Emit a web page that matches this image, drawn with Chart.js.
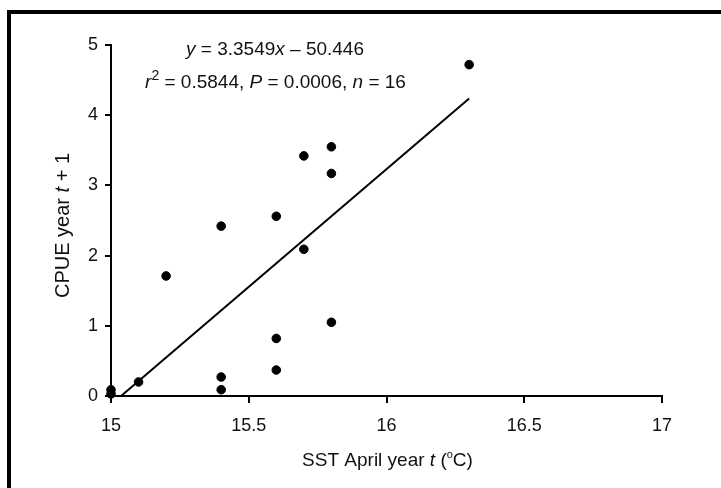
<!DOCTYPE html>
<html><head><meta charset="utf-8">
<script src="https://cdn.jsdelivr.net/npm/chart.js@4"></script>
<style>html,body{margin:0;padding:0;background:#fff;}#wrap{width:721px;height:488px;position:relative;}</style>
</head><body><div id="wrap"><canvas id="c" width="721" height="488"></canvas></div>
<script>
// ---- data ----
const sst  = [15.0, 15.0, 15.1, 15.2, 15.4, 15.4, 15.4, 15.6, 15.6, 15.6, 15.7, 15.7, 15.8, 15.8, 15.8, 16.3];
const cpue = [0.03, 0.09, 0.2, 1.71, 0.09, 0.27, 2.42, 0.37, 0.82, 2.56, 2.09, 3.42, 1.05, 3.17, 3.55, 4.72];
const fitSlope = 3.3549;
const fitIntercept = -50.446;
const xTicks = [15, 15.5, 16, 16.5, 17];
const yTicks = [0, 1, 2, 3, 4, 5];
// rich-text pieces: [text, style]  style: n=normal, i=italic, s=superscript
const xTitle = [['SST April year ','n'], ['t','i'], [' (','n'], ['o','s'], ['C)','n']];
const yTitle = [['CPUE year ','n'], ['t','i'], [' + 1','n']];
const eqLine1 = [['y','i'], [' = 3.3549','n'], ['x','i'], [' \u2013 50.446','n']];
const eqLine2 = [['r','i'], ['2','s'], [' = 0.5844, ','n'], ['P','i'], [' = 0.0006, ','n'], ['n','i'], [' = 16','n']];

const FONT = "'Liberation Sans', Arial, Helvetica, sans-serif";
const points = sst.map((x, i) => ({x: x, y: cpue[i]}));
const xStart = -fitIntercept / fitSlope;
const xEnd = Math.max(...sst);
const fitLine = [xStart, xEnd].map(x => ({x: x, y: fitSlope * x + fitIntercept}));

const framePlugin = {
  id: 'frame',
  afterDraw(chart) {
    const ctx = chart.ctx;
    ctx.save();
    ctx.fillStyle = '#000';
    ctx.fillRect(7, 10, 4, chart.height - 10);
    ctx.fillRect(7, 10, chart.width - 7, 4);
    ctx.restore();
  }
};

function drawRich(ctx, segs, cx, baseline, size, supScale) {
  const ss = supScale || 0.72;
  const fontOf = st => (st === 'i' ? 'italic ' : '') + (st === 's' ? Math.round(size * ss) : size) + 'px ' + FONT;
  let total = 0;
  const widths = segs.map(([t, st]) => { ctx.font = fontOf(st); const w = ctx.measureText(t).width; total += w; return w; });
  let x = cx - total / 2;
  segs.forEach(([t, st], i) => {
    ctx.font = fontOf(st);
    ctx.fillText(t, x, baseline - (st === 's' ? size * 0.42 : 0));
    x += widths[i];
  });
}

const textPlugin = {
  id: 'texts',
  afterDraw(chart) {
    const ctx = chart.ctx;
    const a = chart.chartArea;
    ctx.save();
    ctx.fillStyle = '#111';
    ctx.textBaseline = 'alphabetic';
    ctx.textAlign = 'left';
    drawRich(ctx, eqLine1, 275, 54.5, 19);
    drawRich(ctx, eqLine2, 275.5, 87.5, 19);
    // x title
    drawRich(ctx, xTitle, (a.left + a.right) / 2 + 1, 466, 19, 0.6);
    // y title (rotated)
    ctx.translate(68.5, (a.top + a.bottom) / 2 + 5);
    ctx.rotate(-Math.PI / 2);
    drawRich(ctx, yTitle, 0, 0, 20);
    ctx.restore();
  }
};

const tickFont = {family: FONT, size: 18};
new Chart(document.getElementById('c'), {
  type: 'scatter',
  data: {
    datasets: [
      {data: points, backgroundColor: '#000', borderColor: '#000', pointRadius: 4.3, pointHoverRadius: 4.3, clip: false},
      {type: 'line', data: fitLine, borderColor: '#000', borderWidth: 2, pointRadius: 0, fill: false, tension: 0}
    ]
  },
  options: {
    responsive: false,
    animation: false,
    events: [],
    layout: {padding: {top: 45, right: 59, left: 0, bottom: 0}},
    plugins: {legend: {display: false}, tooltip: {enabled: false}},
    scales: {
      x: {
        type: 'linear', min: 15, max: 17,
        afterBuildTicks: s => { s.ticks = xTicks.map(v => ({value: v})); },
        afterFit: s => { s.height = 92; },
        grid: {display: true, drawOnChartArea: false, drawTicks: true, tickLength: 7, color: '#000', lineWidth: 2},
        border: {display: true, color: '#000', width: 2},
        ticks: {color: '#111', font: tickFont, padding: 12, maxRotation: 0, autoSkip: false, callback: v => String(v)},
        title: {display: false}
      },
      y: {
        type: 'linear', min: 0, max: 5,
        afterBuildTicks: s => { s.ticks = yTicks.map(v => ({value: v})); },
        afterFit: s => { s.width = 111; },
        grid: {display: true, drawOnChartArea: false, drawTicks: true, tickLength: 6, color: '#000', lineWidth: 2},
        border: {display: true, color: '#000', width: 2},
        ticks: {color: '#111', font: tickFont, padding: 7, autoSkip: false, callback: v => String(v)},
        title: {display: false}
      }
    }
  },
  plugins: [framePlugin, textPlugin]
});
</script>
</body></html>
